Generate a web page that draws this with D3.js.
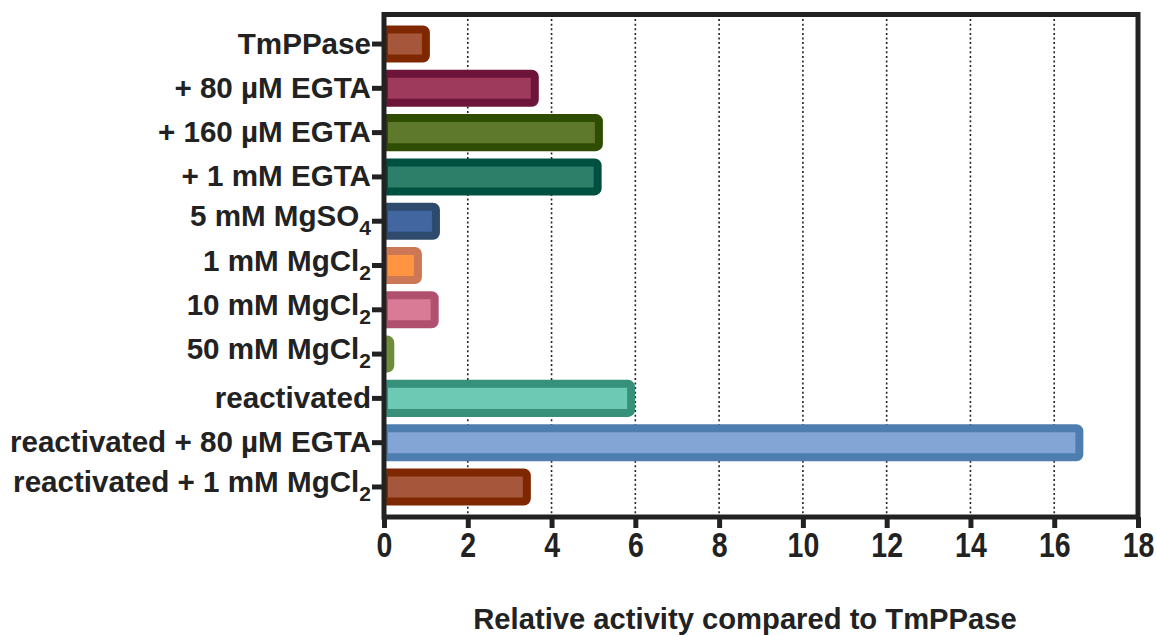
<!DOCTYPE html>
<html>
<head>
<meta charset="utf-8">
<script src="https://cdn.jsdelivr.net/npm/d3@7"></script>
<style>
  body { margin: 0; background: #fff; }
  text { font-family: "Liberation Sans", Arial, sans-serif; font-weight: bold; fill: #222; }
</style>
</head>
<body>
<script>
  // categories, with optional subscript part
  var labels = ["TmPPase", "+ 80 µM EGTA", "+ 160 µM EGTA", "+ 1 mM EGTA", "5 mM MgSO", "1 mM MgCl",
    "10 mM MgCl", "50 mM MgCl", "reactivated", "reactivated + 80 µM EGTA", "reactivated + 1 mM MgCl"];
  var subs = ["", "", "", "", "4", "2", "2", "2", "", "", "2"];
  var values = [1.0, 3.6, 5.13, 5.1, 1.24, 0.81, 1.21, 0.15, 5.9, 16.6, 3.41];
  var fills = ["#a6573b", "#9e3a5c", "#5e782c", "#2d7f69", "#4266a0", "#ff9540",
    "#d97b97", "#6e8c3a", "#6dc9b3", "#82a5d5", "#a6573b"];
  var borders = ["#7f2800", "#6c1439", "#2e4d00", "#00503f", "#2e4b6e", "#cc7756",
    "#b0506e", "#6e8c3a", "#36907a", "#4e7eb0", "#7f2800"];
  var xTicks = [0, 2, 4, 6, 8, 10, 12, 14, 16, 18];

  var width = 1156, height = 635;
  var svg = d3.select("body").append("svg")
    .attr("width", width)
    .attr("height", height);

  var x = d3.scaleLinear().domain([0, 18]).range([384, 1138]);
  var y = d3.scaleBand().domain(d3.range(labels.length)).range([22, 509]).paddingInner(0.345).paddingOuter(0.17);

  var plotTop = 14.5, plotBottom = 517;

  svg.append("defs").append("clipPath")
    .attr("id", "plotclip")
    .append("rect")
    .attr("x", x(0))
    .attr("y", 0)
    .attr("width", x(18) - x(0))
    .attr("height", plotBottom);

  // dotted grid
  svg.append("g").selectAll("line")
    .data(xTicks.filter(function(d) { return d > 0 && d < 18; }))
    .enter().append("line")
    .attr("x1", function(d) { return x(d); })
    .attr("x2", function(d) { return x(d); })
    .attr("y1", plotTop)
    .attr("y2", plotBottom)
    .attr("stroke", "#222")
    .attr("stroke-width", 1.6)
    .attr("stroke-dasharray", "2,2.6");

  // bars
  svg.append("g")
    .attr("clip-path", "url(#plotclip)")
    .selectAll("rect")
    .data(values)
    .enter().append("rect")
    .attr("x", x(0))
    .attr("y", function(d, i) { return y(i); })
    .attr("width", function(d) { return x(d) - x(0); })
    .attr("height", y.bandwidth())
    .attr("rx", 3)
    .attr("fill", function(d, i) { return fills[i]; })
    .attr("stroke", function(d, i) { return borders[i]; })
    .attr("stroke-width", 8);

  // frame
  svg.append("rect")
    .attr("x", x(0))
    .attr("y", plotTop)
    .attr("width", x(18) - x(0))
    .attr("height", plotBottom - plotTop)
    .attr("fill", "none")
    .attr("stroke", "#222")
    .attr("stroke-width", 5);

  // x axis
  var xAxis = svg.append("g")
    .attr("transform", "translate(0," + plotBottom + ")")
    .call(d3.axisBottom(x).tickValues(xTicks).tickSize(11));
  xAxis.select(".domain").remove();
  xAxis.selectAll(".tick line").attr("stroke", "#222").attr("stroke-width", 5);
  xAxis.selectAll(".tick text")
    .attr("y", 0)
    .attr("dy", 0)
    .attr("transform", "translate(0,40) scale(1,1.2)")
    .attr("font-size", 28.5)
    .style("font-family", "'Liberation Sans', Arial, sans-serif")
    .style("font-weight", "bold")
    .attr("fill", "#222");

  // y axis ticks + labels
  var yg = svg.append("g");
  yg.selectAll("line")
    .data(labels)
    .enter().append("line")
    .attr("x1", x(0) - 12)
    .attr("x2", x(0))
    .attr("y1", function(d, i) { return y(i) + y.bandwidth() / 2; })
    .attr("y2", function(d, i) { return y(i) + y.bandwidth() / 2; })
    .attr("stroke", "#222")
    .attr("stroke-width", 5);

  var lab = yg.selectAll("text")
    .data(labels)
    .enter().append("text")
    .attr("x", x(0) - 13)
    .attr("y", function(d, i) { return y(i) + y.bandwidth() / 2 + (subs[i] ? 5 : 9.5); })
    .attr("text-anchor", "end")
    .attr("font-size", 29.6);
  lab.append("tspan").text(function(d) { return d; });
  lab.append("tspan")
    .attr("font-size", 21)
    .attr("dy", 9)
    .text(function(d, i) { return subs[i]; });

  // axis title
  svg.append("text")
    .attr("x", 745)
    .attr("y", 629)
    .attr("text-anchor", "middle")
    .attr("font-size", 29.2)
    .text("Relative activity compared to TmPPase");
</script>
</body>
</html>
